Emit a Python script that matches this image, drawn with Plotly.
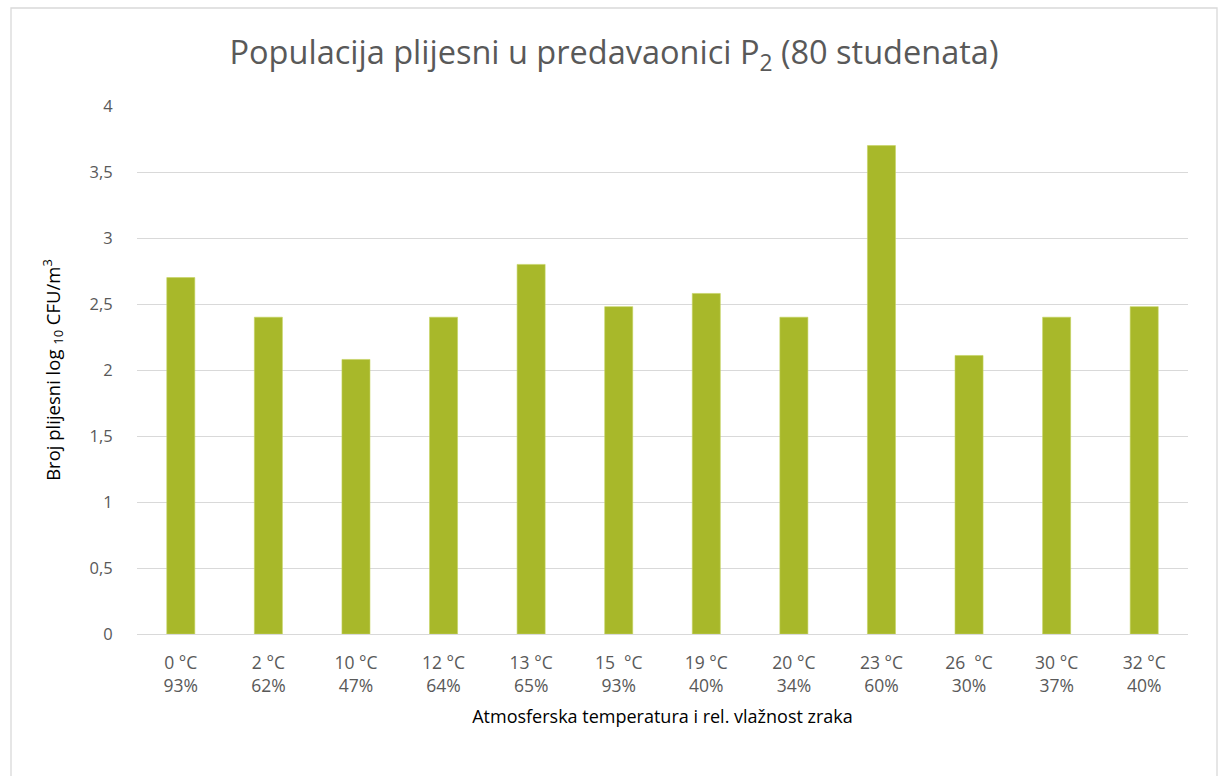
import plotly.graph_objects as go

temps = ["0 °C", "2 °C", "10 °C", "12 °C", "13 °C", "15  °C", "19 °C", "20 °C", "23 °C", "26  °C", "30 °C", "32 °C"]
humid = ["93%", "62%", "47%", "64%", "65%", "93%", "40%", "34%", "60%", "30%", "37%", "40%"]
values = [2.70, 2.40, 2.08, 2.40, 2.80, 2.48, 2.58, 2.40, 3.70, 2.11, 2.40, 2.48]
y_ticks = [0, 0.5, 1, 1.5, 2, 2.5, 3, 3.5, 4]
y_tick_text = ["0", "0,5", "1", "1,5", "2", "2,5", "3", "3,5", "4"]

cats = [f"{t}<br>{h}" for t, h in zip(temps, humid)]

W, H = 1219, 776
L, R, T, B = 137, 31, 106, 142
pw, ph = W - L - R, H - T - B

def px_x(x):
    return (x - L) / pw

def px_y(y):
    return (H - B - y) / ph

FONT = "'Open Sans', Lato, sans-serif"

fig = go.Figure(go.Bar(
    x=cats, y=values,
    marker=dict(color="#A8B82A", line=dict(color="#C4D35E", width=0.6)),
))

fig.update_layout(
    width=W, height=H,
    margin=dict(l=L, r=R, t=T, b=B),
    paper_bgcolor="white", plot_bgcolor="white",
    bargap=0.68,
    showlegend=False,
    font=dict(family=FONT, color="#595959", size=16),
    title=dict(
        text="Populacija plijesni u predavaonici P<sub>2</sub> (80 studenata)",
        font=dict(family=FONT, size=32.5, color="#595959"),
        x=614 / W, xref="container", xanchor="center",
        y=1 - 53 / H, yref="container", yanchor="middle",
    ),
    xaxis=dict(
        type="category",
        showgrid=False,
        showline=True, linecolor="#D9D9D9", linewidth=1.3,
        ticks="", tickfont=dict(size=17.5, color="#595959"),
        ticklabelstandoff=13,
        title=dict(text="Atmosferska temperatura i rel. vlažnost zraka",
                   font=dict(size=18, color="#000000"), standoff=14),
    ),
    yaxis=dict(
        range=[0, 4],
        tickvals=y_ticks, ticktext=y_tick_text,
        showgrid=True, gridcolor="#D9D9D9", gridwidth=1.3,
        zeroline=False,
        ticks="outside", ticklen=20, tickcolor="rgba(0,0,0,0)",
        tickfont=dict(size=16.5, color="#595959"),
        title=dict(text="Broj plijesni log <sub>10</sub> CFU/m<sup>3</sup>",
                   font=dict(size=18.5, color="#000000"), standoff=24),
    ),
    shapes=[dict(
        type="rect", xref="paper", yref="paper",
        x0=px_x(11), x1=px_x(1217), y0=px_y(785), y1=px_y(8),
        line=dict(color="#D9D9D9", width=1.3), fillcolor="rgba(0,0,0,0)",
        layer="below",
    )],
)

fig.write_html("out.html", config={"displayModeBar": False},
               post_script="document.body.style.margin='0';")
